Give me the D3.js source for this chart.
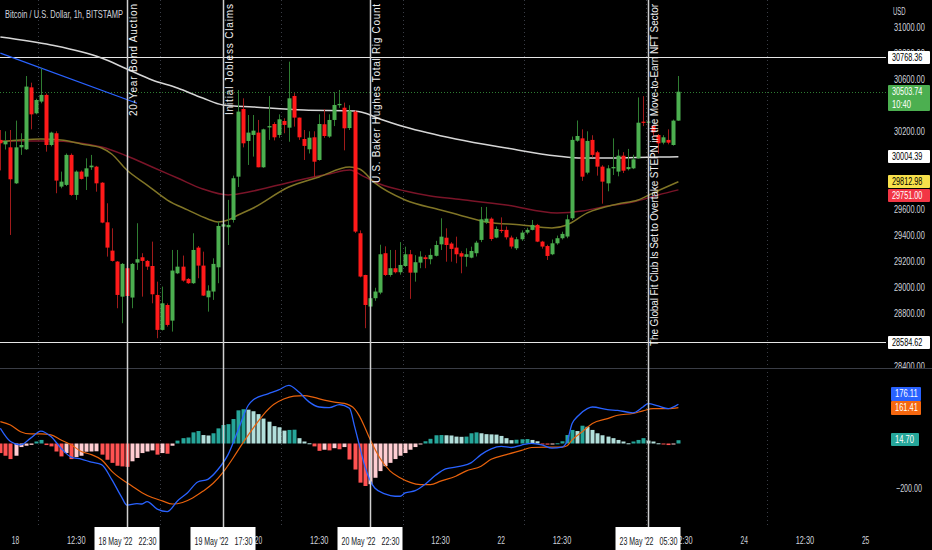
<!DOCTYPE html>
<html><head><meta charset="utf-8">
<script src="https://cdn.jsdelivr.net/npm/d3@7"></script>
<style>
html,body{margin:0;padding:0;background:#000;overflow:hidden}
svg{display:block}
text{font-family:"Liberation Sans",Arial,sans-serif}
</style></head><body>
<svg id="c" width="932" height="550"></svg>
<script>
// ---------------- DATA ----------------
const title = "Bitcoin / U.S. Dollar, 1h, BITSTAMP";
const firstCandleTime = "2022-05-17T21:30"; // hourly candles
const opens = [
30134,30100,30077,29801,30077,30062,30537,30338,30428,30479,
30095,30185,29776,29789,30019,29712,29891,29852,29924,29929,
29806,29502,29285,29201,28932,29150,28925,29193,29234,29206,
29167,28945,28677,28868,28748,29111,29162,29068,29035,29308,
29170,28927,28971,29157,29469,29464,29520,29852,30371,30126,
30172,30190,29924,30230,30256,30172,30279,30228,30471,30305,
30141,30062,30154,29980,30254,30160,30287,30400,30381,30225,
30351,29418,29098,28856,28920,28963,29265,29098,29150,29119,
29167,29257,29116,29193,29234,29219,29245,29333,29384,29339,
29308,29265,29237,29231,29265,29367,29502,29530,29385,29444,
29444,29385,29303,29372,29423,29444,29482,29354,29320,29257,
29341,29380,29393,29533,30128,30146,29883,30134,30039,29929,
29801,29916,29891,30013,29910,29916,29993,30274,30270,30243,
30172,30113,30134,30095,30282];
const highs = [
30210,30200,30210,30282,30185,30624,30573,30450,30683,30490,
30197,30200,29891,30030,30030,29900,29900,29993,30019,29935,
29810,29648,29456,29205,29190,29160,29190,29495,29265,29213,
29354,29047,29009,28880,29290,29290,29247,29075,29418,29320,
29277,29019,29226,29507,29507,29674,29860,30517,30453,30325,
30325,30287,30220,30471,30270,30330,30300,30734,30493,30305,
30210,30200,30200,30330,30370,30330,30500,30517,30420,30400,
30360,29440,29100,28983,29000,29330,29318,29290,29290,29350,
29315,29290,29250,29280,29250,29300,29360,29533,29456,29350,
29392,29280,29303,29315,29360,29620,29620,29540,29470,29540,
29470,29400,29390,29440,29460,29520,29490,29360,29330,29370,
29400,29430,29560,30160,30283,30215,30200,30170,30050,29940,
29940,30146,30060,30040,30065,30020,30460,30470,30330,30250,
30180,30170,30215,30290,30624];
const lows = [
29900,30060,29405,29796,30019,30057,30215,30330,30415,30044,
30085,29725,29763,29780,29705,29674,29830,29750,29904,29737,
29495,29239,29201,28843,28728,28881,28843,29137,28932,29137,
28881,28613,28672,28702,28664,29105,29047,29030,29029,29073,
28937,28817,28907,29035,29328,29328,29500,29773,30077,29942,
30006,29924,29920,30134,30130,30150,30185,30120,30236,30134,
29980,30030,29847,29975,30150,30150,30240,30380,30054,30210,
29420,29080,28690,28700,28900,28950,29090,29085,29110,29100,
29160,28915,29047,29150,29150,29180,29240,29290,29200,29200,
29188,29111,29162,29226,29240,29350,29490,29360,29380,29420,
29370,29300,29290,29360,29410,29440,29350,29300,29213,29250,
29330,29370,29380,29520,30120,29820,29870,30000,29860,29645,
29740,29865,29855,29880,29900,29910,29990,30240,30200,30160,
30030,30100,30100,30090,30280];
const closes = [
30108,30125,29832,30077,30095,30543,30330,30440,30479,30095,
30190,29822,29814,30019,29712,29891,29835,29916,29937,29801,
29500,29308,29206,28945,29183,28937,29183,29219,29206,29162,
28950,28677,28881,28715,29132,29162,29055,29035,29290,29170,
28940,28978,29183,29474,29487,29482,29840,30351,30108,30190,
30205,29924,30215,30240,30154,30292,30249,30453,30305,30154,
30088,30151,29967,30256,30164,30287,30402,30410,30223,30358,
29431,29086,28868,28920,28971,29257,29098,29150,29119,29175,
29257,29116,29196,29239,29220,29252,29328,29392,29328,29298,
29257,29239,29257,29282,29346,29525,29530,29374,29451,29439,
29387,29316,29372,29423,29444,29482,29354,29316,29244,29341,
29380,29413,29525,30134,30164,29852,30126,30019,29929,29814,
29916,29926,30013,29898,29926,29985,30266,30266,30275,30192,
30108,30154,30113,30282,30503.74];

// moving averages: [candle index, value]
const ma200Pts = [[0,30923],[10,30862],[20,30762],[25,30678],[30,30594],[35,30532],[40,30455],[44,30402],[50,30387],[60,30363],[70,30356],[72,30340],[75,30295],[80,30233],[90,30141],[100,30072],[110,30011],[115,29995],[120,29995],[130,30003],[134,30004.39]];
const ma100Pts = [[0,30126],[10,30126],[20,30080],[25,30011],[30,29926],[35,29842],[40,29758],[45,29712],[48,29727],[50,29742],[55,29788],[60,29834],[65,29873],[69,29903],[72,29850],[75,29796],[80,29742],[85,29704],[90,29681],[100,29635],[110,29574],[115,29589],[120,29627],[125,29658],[130,29712],[134,29751.00]];
const ma50Pts = [[0,30120],[8,30141],[12,30133],[16,30103],[20,30072],[22,30026],[25,29903],[29,29788],[33,29673],[37,29597],[41,29528],[43,29505],[45,29520],[47,29558],[50,29612],[57,29773],[63,29850],[69,29926],[71,29911],[74,29804],[80,29673],[87,29597],[90,29566],[96,29505],[103,29482],[109,29459],[112,29482],[116,29574],[122,29643],[126,29673],[129,29727],[134,29812.98]];
const trendLinePts = [[0,30800],[27,30415]];
const hLineLevels = [30768.36, 28584.62];
const lastPrice = 30503.74;
const countdown = "10:40";

// MACD
const histogram = [
-43,-55,-70,-55,-16,-10,-6,9,16,-7,
-13,-36,-58,-43,-70,-61,-55,-37,-36,-35,
-50,-73,-87,-100,-103,-105,-80,-65,-43,-36,
-31,-50,-43,-46,-10,13,24,27,50,56,
38,36,46,68,83,87,110,149,154,152,
145,132,112,98,78,73,58,61,62,24,
9,1,-13,-33,-28,-31,-21,-26,-16,-72,
-117,-176,-191,-183,-154,-124,-102,-87,-70,-55,
-43,-28,-16,-4,10,21,37,38,37,36,
31,30,31,46,50,46,42,41,40,34,
24,15,17,19,20,16,10,-4,-5,-3,
1,10,38,61,56,80,75,61,46,37,
31,24,16,9,1,9,16,24,13,9,
1,-4,-7,-4,14.70];
const macdPts = [[0,68],[2,9],[4,-6],[6,24],[8,56],[10,31],[12,-21],[14,-61],[16,-70],[18,-84],[20,-95],[22,-161],[24,-242],[25,-277],[27,-270],[28,-272],[29,-261],[31,-295],[33,-306],[35,-258],[37,-221],[39,-173],[41,-161],[43,-117],[45,-50],[47,61],[49,172],[50,197],[53,224],[55,241],[57,261],[59,231],[61,187],[63,164],[65,161],[67,175],[69,158],[70,77],[71,-12],[72,-100],[74,-200],[76,-226],[78,-237],[79,-237],[80,-222],[82,-212],[84,-182],[86,-143],[88,-114],[91,-102],[93,-87],[95,-50],[97,-24],[99,-13],[101,-18],[103,-7],[105,1],[107,-6],[109,-21],[111,-16],[112,9],[113,90],[114,120],[116,157],[117,164],[120,152],[122,149],[125,138],[127,164],[128,179],[130,169],[132,157],[134,176.11]];
const signalPts = [[0,98],[2,83],[4,53],[6,43],[8,43],[10,39],[12,16],[14,-6],[16,-36],[18,-50],[20,-73],[22,-124],[24,-161],[26,-191],[28,-221],[30,-243],[32,-258],[34,-272],[36,-265],[38,-245],[40,-215],[42,-180],[44,-130],[46,-65],[48,5],[50,70],[52,130],[54,175],[56,200],[58,213],[60,215],[62,207],[64,195],[66,186],[68,180],[70,156],[71,122],[72,74],[73,22],[75,-65],[77,-123],[79,-154],[81,-175],[83,-185],[85,-185],[87,-169],[90,-147],[92,-124],[95,-102],[97,-71],[100,-50],[103,-31],[105,-18],[108,-16],[111,-16],[112,-10],[113,16],[115,53],[117,90],[120,112],[122,127],[125,135],[127,147],[129,157],[132,157],[134,161.41]];

// events
const eventTimes = ["2022-05-18T22:30","2022-05-19T17:30","2022-05-20T22:30","2022-05-23T05:30"];
const eventTitles = ["20-Year Bond Auction","Initial Jobless Claims","U.S. Baker Hughes Total Rig Count","The Global Fit Club Is Set to Overtake STEPN in the Move-to-Earn NFT Sector"];
const eventDateLabels = ["18 May '22", "19 May '22", "20 May '22", "23 May '22"];
const eventTimeLabels = ["22:30","17:30","22:30","05:30"];

// axes
const priceTicks = [28400,28600,28800,29000,29200,29400,29600,29800,30000,30200,30400,30600,30800,31000];
const macdTicks = [-200];
const xTickTimes = ["2022-05-18T00:30","2022-05-18T12:30","2022-05-19T00:30","2022-05-19T12:30","2022-05-20T00:30","2022-05-20T12:30","2022-05-21T00:30","2022-05-21T12:30","2022-05-22T00:30","2022-05-22T12:30","2022-05-23T00:30","2022-05-23T12:30","2022-05-24T00:30","2022-05-24T12:30","2022-05-25T00:30"];
const xTickLabels = ["18","12:30","19","12:30","20","12:30","21","12:30","22","12:30","23","12:30","24","12:30","25"];
const gridTimes = ["2022-05-18T05:00","2022-05-19T05:00","2022-05-20T05:00","2022-05-21T05:00","2022-05-22T05:00","2022-05-23T05:00","2022-05-24T05:00"];

// ---------------- CHART ----------------
const W = 932, H = 550;
const parse = d3.timeParse("%Y-%m-%dT%H:%M");
const t0 = parse(firstCandleTime);
const timeAt = i => new Date(t0.getTime() + i * 3600e3);

const x = d3.scaleTime()
  .domain([parse("2022-05-18T00:00"), parse("2022-05-25T00:00")])
  .range([13, 13 + 168 * 5.06]);
const xi = i => x(timeAt(i));
const yP = d3.scaleLinear().domain([28400, 31000]).range([366, 27]);
const yM = d3.scaleLinear().domain([-200, 0]).range([488, 443.5]);

const svg = d3.select("#c");
svg.append("rect").attr("width", W).attr("height", H).attr("fill", "#000");

const defs = svg.append("defs");
defs.append("clipPath").attr("id", "cp").append("rect").attr("x", 0).attr("y", 0).attr("width", 886).attr("height", 368);
defs.append("clipPath").attr("id", "cm").append("rect").attr("x", 0).attr("y", 370).attr("width", 886).attr("height", 150);
defs.append("clipPath").attr("id", "cpa").append("rect").attr("x", 886).attr("y", 0).attr("width", 46).attr("height", 368);

function narrow(sel, per) {
  sel.attr("textLength", function () { return this.textContent.length * per; })
     .attr("lengthAdjust", "spacingAndGlyphs");
}

// dotted vertical grid
svg.append("g").selectAll("line").data(gridTimes).join("line")
  .attr("x1", d => Math.round(x(parse(d))) + 0.5).attr("x2", d => Math.round(x(parse(d))) + 0.5)
  .attr("y1", 0).attr("y2", 527)
  .attr("stroke", "#3a3d46").attr("stroke-dasharray", "1,3").attr("stroke-width", 1);

// ---- price panel ----
const gp = svg.append("g").attr("clip-path", "url(#cp)");

gp.selectAll("line.lvl").data(hLineLevels).join("line").attr("class", "lvl")
  .attr("x1", 0).attr("x2", 888)
  .attr("y1", d => Math.round(yP(d)) + 0.5).attr("y2", d => Math.round(yP(d)) + 0.5)
  .attr("stroke", "#e6e6e6").attr("stroke-width", 1.2);

gp.append("line").attr("x1", 0).attr("x2", 888)
  .attr("y1", Math.round(yP(lastPrice)) + 0.5).attr("y2", Math.round(yP(lastPrice)) + 0.5)
  .attr("stroke", "#2e7d32").attr("stroke-dasharray", "1,2").attr("stroke-width", 1);

const lineP = d3.line().x(d => xi(d[0])).y(d => yP(d[1])).curve(d3.curveMonotoneX);
gp.append("path").attr("d", lineP(ma100Pts)).attr("fill", "none").attr("stroke", "#7a1428").attr("stroke-width", 1.5);
gp.append("path").attr("d", lineP(ma50Pts)).attr("fill", "none").attr("stroke", "#807526").attr("stroke-width", 1.5);
gp.append("path").attr("d", lineP(ma200Pts)).attr("fill", "none").attr("stroke", "#d6d6d6").attr("stroke-width", 1.5);
gp.append("path").attr("d", d3.line().x(d => xi(d[0])).y(d => yP(d[1]))(trendLinePts))
  .attr("fill", "none").attr("stroke", "#2962ff").attr("stroke-width", 1.2);

// candles
const candles = d3.range(closes.length).map(i => ({i, o: opens[i], h: highs[i], l: lows[i], c: closes[i]}));
const up = d => d.c >= d.o;
const cg = gp.append("g");
cg.selectAll("line.w").data(candles).join("line").attr("class", "w")
  .attr("x1", d => Math.round(xi(d.i)) + 0.5).attr("x2", d => Math.round(xi(d.i)) + 0.5)
  .attr("y1", d => yP(d.h)).attr("y2", d => yP(d.l))
  .attr("stroke", d => up(d) ? "#2f7d32" : "#a01b1b").attr("stroke-width", 1);
cg.selectAll("rect.b").data(candles).join("rect").attr("class", "b")
  .attr("x", d => Math.round(xi(d.i)) - 1.5).attr("width", 4)
  .attr("y", d => yP(Math.max(d.o, d.c)))
  .attr("height", d => Math.max(1.2, Math.abs(yP(d.o) - yP(d.c))))
  .attr("fill", d => up(d) ? "#4caf50" : "#ff1a1a");

// ---- MACD panel ----
const gm = svg.append("g").attr("clip-path", "url(#cm)");
const histColor = (v, i) => {
  const p = i > 0 ? histogram[i - 1] : v;
  if (v >= 0) return v > p ? "#26a69a" : "#b2dfdb";
  return v > p ? "#ffcdd2" : "#ff5252";
};
gm.selectAll("rect.h").data(histogram).join("rect").attr("class", "h")
  .attr("x", (d, i) => Math.round(xi(i)) - 1.5).attr("width", 4)
  .attr("y", d => Math.min(yM(d), yM(0)))
  .attr("height", d => Math.max(1, Math.abs(yM(d) - yM(0))))
  .attr("fill", (d, i) => histColor(d, i));
const lineM = d3.line().x(d => xi(d[0])).y(d => yM(d[1])).curve(d3.curveMonotoneX);
gm.append("path").attr("d", lineM(signalPts)).attr("fill", "none").attr("stroke", "#e8620c").attr("stroke-width", 1.2);
gm.append("path").attr("d", lineM(macdPts)).attr("fill", "none").attr("stroke", "#2962ff").attr("stroke-width", 1.3);

// panel separator
svg.append("line").attr("x1", 0).attr("x2", W).attr("y1", 368.5).attr("y2", 368.5).attr("stroke", "#3a3d46");

// ---- event lines & titles ----
const ev = eventTimes.map((t, k) => ({x: Math.round(x(parse(t))) + 0.5, title: eventTitles[k], date: eventDateLabels[k], time: eventTimeLabels[k]}));
svg.append("g").selectAll("line").data(ev).join("line")
  .attr("x1", d => d.x).attr("x2", d => d.x).attr("y1", 0).attr("y2", 528)
  .attr("stroke", "#cfcfcf").attr("stroke-width", 1.5);
const titleBottoms = [116, 115, 183, 346];
svg.append("g").selectAll("text").data(ev).join("text")
  .attr("transform", (d, k) => `translate(${d.x + 9},${titleBottoms[k]}) rotate(-90)`)
  .attr("fill", "#f0f0f0").attr("font-size", 10)
  .attr("textLength", (d, k) => titleBottoms[k] - 4).attr("lengthAdjust", "spacing")
  .text(d => d.title);

// ---- title ----
svg.append("text").attr("x", 5).attr("y", 18).attr("fill", "#d1d4dc").attr("font-size", 10.5)
  .attr("textLength", 118).attr("lengthAdjust", "spacingAndGlyphs").text(title);

// ---- right price axis ----
const ax = svg.append("g");
ax.append("text").attr("x", 893).attr("y", 15).attr("fill", "#d1d4dc").attr("font-size", 10).text("USD").call(narrow, 4.2);
const lastBoxTop = Math.round(yP(lastPrice)) - 7, lastBoxBottom = lastBoxTop + 26;
const boxLevels = [hLineLevels[0], hLineLevels[1], ma200Pts[ma200Pts.length - 1][1], ma50Pts[ma50Pts.length - 1][1], ma100Pts[ma100Pts.length - 1][1]];
const visibleTicks = priceTicks.filter(t => t === 30800 ||
  (!boxLevels.some(b => Math.abs(yP(t) - yP(b)) < 9) && !(yP(t) > lastBoxTop && yP(t) < lastBoxBottom + 3)));
const lastTick = priceTicks[0];
ax.append("g").selectAll("text").data(visibleTicks.filter(t => t !== lastTick)).join("text")
  .attr("x", 894).attr("y", d => yP(d) + 3.5).attr("fill", "#d1d4dc").attr("font-size", 10.5)
  .text(d => d3.format(".2f")(d)).call(narrow, 3.85);
// the bottom tick is cut by the panel edge, as in the original
ax.append("g").attr("clip-path", "url(#cpa)").append("text")
  .attr("x", 894).attr("y", yP(lastTick) + 3.5).attr("fill", "#d1d4dc").attr("font-size", 10.5)
  .text(d3.format(".2f")(lastTick)).call(narrow, 3.85);

function box(g, y, h, fill, lines, txtColor, x0 = 888, w = 42, gap = 12) {
  g.append("rect").attr("x", x0).attr("y", y).attr("width", w).attr("height", h).attr("fill", fill).attr("rx", 1);
  lines.forEach((s, k) => {
    g.append("text").attr("x", x0 + 4).attr("y", y + 10 + k * gap).attr("fill", txtColor).attr("font-size", 10.5)
      .text(s).call(narrow, 3.8);
  });
}
const fmt = d3.format(".2f");
box(ax, Math.round(yP(hLineLevels[0])) - 6, 13, "#ffffff", [fmt(hLineLevels[0])], "#000");
box(ax, Math.round(yP(hLineLevels[1])) - 6, 13, "#ffffff", [fmt(hLineLevels[1])], "#000");
box(ax, lastBoxTop, 26, "#4caf50", [fmt(lastPrice), countdown], "#fff", 888, 42, 12.5);
box(ax, Math.round(yP(ma200Pts[ma200Pts.length - 1][1])) - 7, 13, "#ffffff", [fmt(ma200Pts[ma200Pts.length - 1][1])], "#000");
box(ax, Math.round(yP(ma50Pts[ma50Pts.length - 1][1])) - 7, 13, "#f7e04b", [fmt(ma50Pts[ma50Pts.length - 1][1])], "#000");
box(ax, 189, 13, "#f23645", [fmt(ma100Pts[ma100Pts.length - 1][1])], "#fff");

// ---- MACD axis ----
ax.selectAll("text.mt").data(macdTicks).join("text").attr("class", "mt")
  .attr("x", 896).attr("y", d => yM(d) + 3.5).attr("fill", "#d1d4dc").attr("font-size", 10.5)
  .text(d => fmt(d)).call(narrow, 3.7);
box(ax, 387, 14, "#2962ff", [fmt(macdPts[macdPts.length - 1][1])], "#fff", 891, 30);
box(ax, 401, 14, "#f5670f", [fmt(signalPts[signalPts.length - 1][1])], "#fff", 891, 30);
box(ax, 433, 13, "#26a69a", [fmt(histogram[histogram.length - 1])], "#fff", 891, 28);

// ---- time axis ----
const tx = svg.append("g");
const ev0 = ev.map(d => d.x);
const shownX = xTickTimes.map((d, k) => ({x: x(parse(d)), label: xTickLabels[k]}))
  .filter(d => !ev0.some(e => Math.abs(d.x - e) < 26));
tx.selectAll("text").data(shownX).join("text")
  .attr("x", d => d.x).attr("y", 544).attr("text-anchor", "middle")
  .attr("fill", "#d1d4dc").attr("font-size", 10.5)
  .text(d => d.label).call(narrow, 3.7);
const eb = tx.selectAll("g.eb").data(ev).join("g").attr("class", "eb");
eb.append("rect").attr("x", d => d.x - 33).attr("y", 527).attr("width", 65).attr("height", 23).attr("fill", "#fff");
eb.append("text").attr("x", d => d.x - 29).attr("y", 545).attr("fill", "#131722").attr("font-size", 10)
  .text(d => d.date).call(narrow, 3.4);
eb.append("text").attr("x", d => d.x + 29).attr("y", 545).attr("text-anchor", "end").attr("fill", "#131722").attr("font-size", 10)
  .text(d => d.time).call(narrow, 3.6);
</script>
</body></html>
